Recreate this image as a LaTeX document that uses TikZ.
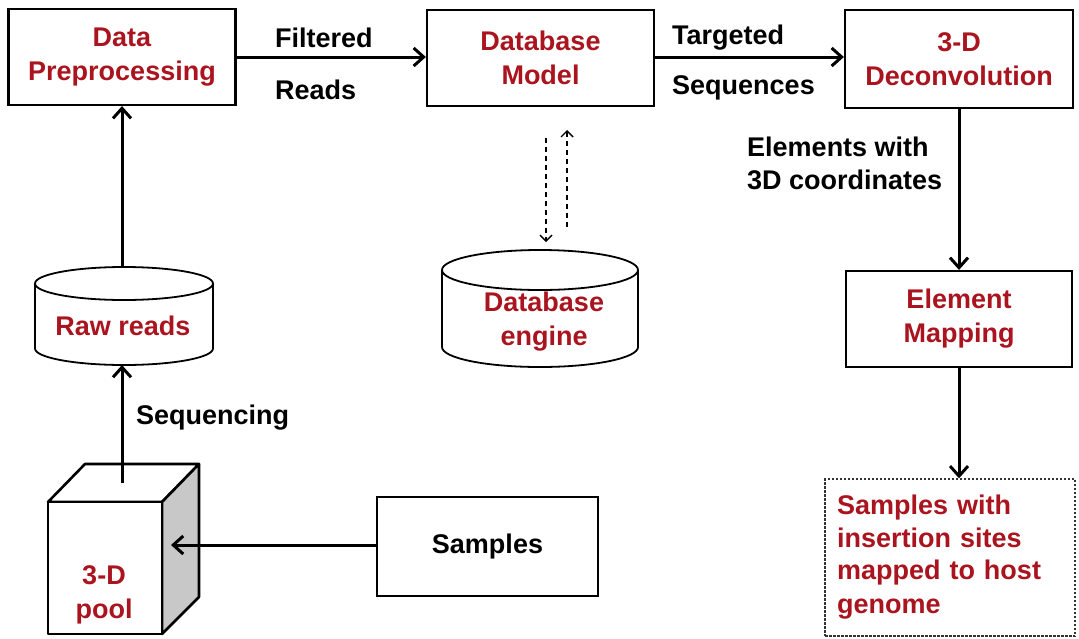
\documentclass[tikz,border=0pt]{standalone}
\usepackage{fontspec}
\setmainfont{Liberation Sans}
\usetikzlibrary{arrows.meta}
\definecolor{dred}{RGB}{170,20,30}
\definecolor{sidegray}{RGB}{200,200,200}
\tikzset{
  box/.style={draw=black, line width=2.2pt, fill=white, minimum width=227pt, minimum height=96pt, inner sep=0pt, align=center, text=dred, font=\fontsize{27}{34}\selectfont\bfseries},
  lbl/.style={inner sep=0pt, anchor=west, align=left, text=black, font=\fontsize{27}{33}\selectfont\bfseries},
  redtxt/.style={inner sep=0pt, align=center, text=dred, font=\fontsize{27}{34}\selectfont\bfseries},
  conn/.style={line width=3pt, -{Straight Barb[length=10pt,width=18pt,line width=3pt]}},
  dconn/.style={line width=1.4pt, dash pattern=on 5pt off 4pt, -{Straight Barb[length=6pt,width=12pt,line width=1.4pt]}},
  shape3d/.style={line width=2.6pt, line join=round},
}
\begin{document}
\begin{tikzpicture}[x=1pt,y=-1pt]
\useasboundingbox (0,0) rectangle (1079,638);

% top row
\node[box] (dp) at (122,57) {Data\\Preprocessing};
\node[box] (dm) at (540.5,58) {Database\\Model};
\node[box, minimum width=228pt, minimum height=98pt] (dc) at (959,59) {3-D\\Deconvolution};
\node[box, minimum width=226pt] (em) at (959,319) {Element\\Mapping};
\node[box, text=black, minimum width=221pt, minimum height=99pt] (sa) at (487.5,546.5) {Samples};
\node[box, draw=black!80, line width=1.4pt, dash pattern=on 2.5pt off 1.5pt, minimum width=250pt, minimum height=157pt, text width=226pt, align=left] (fin) at (950,557.5) {\fontsize{27}{32.5}\selectfont Samples with\\insertion sites\\mapped to host\\genome};

% Raw reads cylinder
\draw[shape3d, line width=1.8pt, fill=white] (35,283.5) -- (35,348.5) arc[start angle=180, end angle=360, x radius=89pt, y radius=16.5pt] -- (213,283.5);
\draw[shape3d, line width=1.8pt, fill=white] (124,283.5) ellipse[x radius=89pt, y radius=16.5pt];
\node[redtxt] (rr) at (123,326) {Raw reads};
\coordinate (rrtop) at (122,267);
\coordinate (rrbot) at (122,365);

% Database engine cylinder
\draw[shape3d, line width=1.8pt, fill=white] (442,270) -- (442,347) arc[start angle=180, end angle=360, x radius=98pt, y radius=20pt] -- (638,270);
\draw[shape3d, line width=1.8pt, fill=white] (540,270) ellipse[x radius=98pt, y radius=20pt];
\node[redtxt] (de) at (544,322) {Database\\engine};

% 3-D pool cube
\draw[shape3d, fill=white] (48,502) -- (85,464) -- (199,464) -- (162,502) -- cycle;
\draw[shape3d, fill=sidegray] (162,502) -- (199,464) -- (199,597) -- (162,634) -- cycle;
\draw[shape3d, fill=white] (48,502) rectangle (162,634);
\node[redtxt] (pool) at (104,595) {3-D\\pool};
\coordinate (cubetop) at (122,483);
\coordinate (cubeside) at (171,545);

% labels
\node[lbl] (lf) at (275,38) {Filtered};
\node[lbl] (lr) at (275,90) {Reads};
\node[lbl] (lt) at (672,38) {Targeted};
\node[lbl] (ls) at (672,88) {Sequences};
\node[lbl] (le) at (747,163.5) {Elements with\\3D coordinates};
\node[lbl] (lq) at (136,418) {Sequencing};

% connectors
\draw[conn] (cubetop) -- (rrbot);
\draw[conn] (rrtop) -- (dp.south);
\draw[conn] (dp.east |- 0,57) -- (dm.west |- 0,57);
\draw[conn] (dm.east |- 0,57) -- (dc.west |- 0,57);
\draw[conn] (dc.south) -- (em.north);
\draw[conn] (em.south) -- (em.south |- fin.north);
\draw[conn] (sa.west |- cubeside) -- (cubeside);

% dashed
\coordinate (d1s) at (546,138);
\coordinate (d1e) at (546,242);
\coordinate (d2s) at (567,227);
\coordinate (d2e) at (567,130);
\draw[dconn] (d1s) -- (d1e);
\draw[dconn] (d2s) -- (d2e);
\end{tikzpicture}
\end{document}
